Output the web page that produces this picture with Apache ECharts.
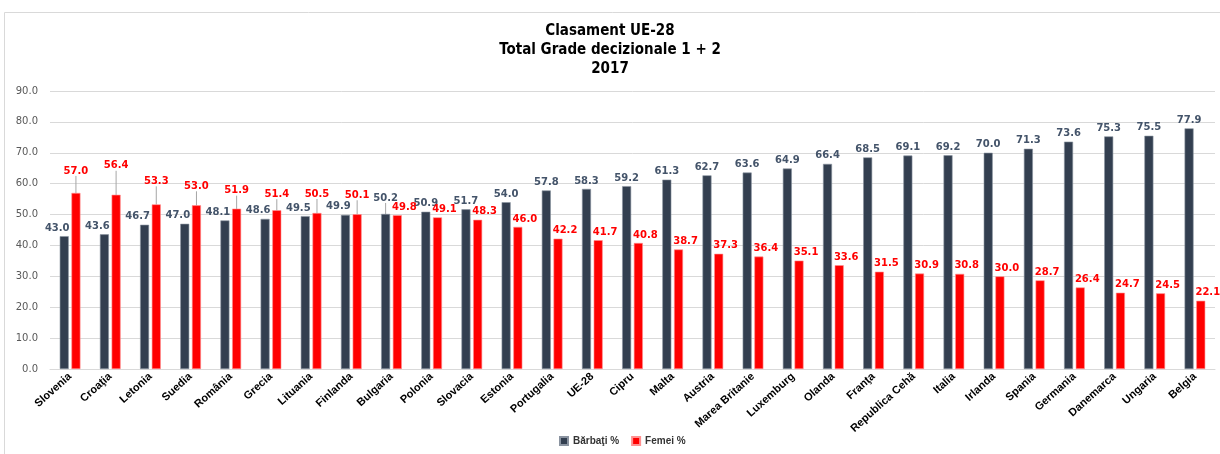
<!DOCTYPE html>
<html>
<head>
<meta charset="utf-8">
<script src="https://cdn.jsdelivr.net/npm/echarts@6/dist/echarts.min.js"></script>
<style>
  html, body { margin: 0; padding: 0; background: #fff; }
  #chart { width: 1220px; height: 454px; }
</style>
</head>
<body>
<div id="chart"></div>
<script>
// date
var tari = ['Slovenia', 'Croaţia', 'Letonia', 'Suedia', 'România', 'Grecia', 'Lituania', 'Finlanda',
  'Bulgaria', 'Polonia', 'Slovacia', 'Estonia', 'Portugalia', 'UE-28', 'Cipru', 'Malta', 'Austria',
  'Marea Britanie', 'Luxemburg', 'Olanda', 'Franţa', 'Republica Cehă', 'Italia', 'Irlanda', 'Spania',
  'Germania', 'Danemarca', 'Ungaria', 'Belgia'];
var barbati = [43.0, 43.6, 46.7, 47.0, 48.1, 48.6, 49.5, 49.9, 50.2, 50.9, 51.7, 54.0, 57.8, 58.3,
  59.2, 61.3, 62.7, 63.6, 64.9, 66.4, 68.5, 69.1, 69.2, 70.0, 71.3, 73.6, 75.3, 75.5, 77.9];
var femei = [57.0, 56.4, 53.3, 53.0, 51.9, 51.4, 50.5, 50.1, 49.8, 49.1, 48.3, 46.0, 42.2, 41.7,
  40.8, 38.7, 37.3, 36.4, 35.1, 33.6, 31.5, 30.9, 30.8, 30.0, 28.7, 26.4, 24.7, 24.5, 22.1];
var axaY = [0, 90, 10];

// ridicarea etichetelor rosii (cele cu linie de legatura)
var ridicareF = [14, 21, 15, 11, 10, 8, 11, 11];

var chart = echarts.init(document.getElementById('chart'));
var font = '"Liberation Sans Narrow", "Liberation Sans", Arial, sans-serif';
var fontTitlu = '"DejaVu Sans Condensed", "Liberation Sans Narrow", "Liberation Sans", sans-serif';
var fontEtich = '"DejaVu Sans", Verdana, sans-serif';

chart.setOption({
  animation: false,
  backgroundColor: '#fff',
  graphic: [{
    type: 'rect',
    shape: { x: 4.5, y: 12.5, width: 1230, height: 460 },
    style: { fill: 'none', stroke: '#d9d9d9', lineWidth: 1 }
  }],
  title: {
    text: 'Clasament UE-28\nTotal Grade decizionale 1 + 2\n2017',
    left: 'center',
    top: 17,
    textStyle: { fontFamily: fontTitlu, fontWeight: 'bold', fontSize: 15, lineHeight: 19, color: '#000' }
  },
  legend: {
    bottom: 3,
    left: 554,
    itemWidth: 8,
    itemHeight: 8,
    itemGap: 12,
    icon: 'rect',
    textStyle: { fontFamily: font, fontWeight: 'bold', fontSize: 10, color: '#333' },
    data: ['Bărbaţi %', 'Femei %']
  },
  grid: { left: 50, right: 5, top: 91, bottom: 85, containLabel: false },
  xAxis: {
    type: 'category',
    data: tari,
    axisTick: { show: false },
    axisLine: { lineStyle: { color: '#d9d9d9' } },
    axisLabel: {
      interval: 0,
      rotate: 42,
      margin: 6,
      fontFamily: font,
      fontWeight: 'bold',
      fontSize: 11,
      color: '#000'
    }
  },
  yAxis: {
    type: 'value',
    min: axaY[0],
    max: axaY[1],
    interval: axaY[2],
    axisLine: { show: false },
    axisTick: { show: false },
    splitLine: { lineStyle: { color: '#d9d9d9' } },
    axisLabel: {
      margin: 12,
      fontFamily: 'Verdana, "DejaVu Sans", sans-serif',
      fontSize: 10,
      color: '#595959',
      formatter: function (v) { return v.toFixed(1); }
    }
  },
  series: [
    {
      name: 'Bărbaţi %',
      type: 'bar',
      data: barbati.map(function (v, i) {
        return { value: v, labelLine: { show: i === 8 } };
      }),
      barWidth: 9,
      barGap: '30%',
      itemStyle: { color: '#333f50', borderColor: '#8a93a0', borderWidth: 0.6 },
      label: {
        show: true,
        position: 'top',
        distance: 3,
        fontFamily: fontEtich,
        fontWeight: 'bold',
        fontSize: 10,
        color: '#44546a',
        formatter: function (p) { return p.value.toFixed(1); }
      },
      labelLine: { lineStyle: { color: '#a6a6a6', width: 1 } },
      labelLayout: function (p) {
        var i = p.dataIndex;
        return { dx: femei[i] > barbati[i] ? -7 : 0, dy: i === 8 ? -8 : 0 };
      }
    },
    {
      name: 'Femei %',
      type: 'bar',
      data: femei.map(function (v, i) {
        return { value: v, labelLine: { show: !!ridicareF[i] } };
      }),
      barWidth: 9,
      itemStyle: { color: '#ff0000', borderColor: '#ff9090', borderWidth: 0.6 },
      label: {
        show: true,
        position: 'top',
        distance: 3,
        fontFamily: fontEtich,
        fontWeight: 'bold',
        fontSize: 10,
        color: '#ff0000',
        formatter: function (p) { return p.value.toFixed(1); }
      },
      labelLine: { lineStyle: { color: '#a6a6a6', width: 1 } },
      labelLayout: function (p) {
        var i = p.dataIndex;
        return { dx: barbati[i] > femei[i] ? 7 : 0, dy: -(ridicareF[i] || 0) };
      }
    }
  ]
});
</script>
</body>
</html>
